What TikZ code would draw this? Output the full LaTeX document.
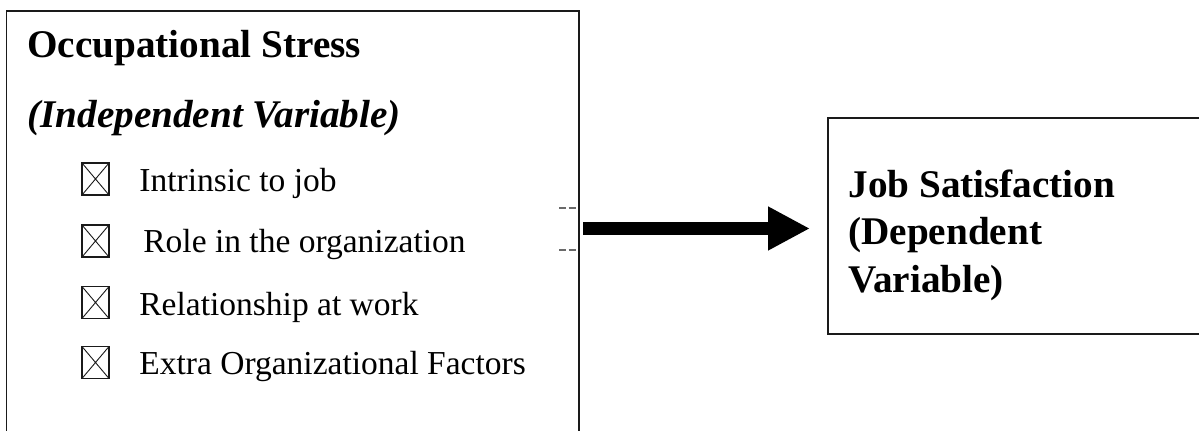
\documentclass[tikz,border=0pt]{standalone}
\usepackage{fontspec}
\setmainfont{Liberation Serif}
\usetikzlibrary{arrows.meta}
\definecolor{dashgrey}{HTML}{6A6A6A}
\definecolor{frame}{HTML}{1A1A1A}
\begin{document}
\begin{tikzpicture}[x=0.5pt,y=-0.5pt,
  framestyle/.style={draw=frame,line width=0.7pt},
  headtext/.style={anchor=base west,inner sep=0pt,font=\fontsize{19.6}{23}\selectfont\bfseries},
  itemtext/.style={anchor=base west,inner sep=0pt,font=\fontsize{16.75}{20}\selectfont},
  checkbox/.style={draw=frame,line width=0.65pt,inner sep=0pt,minimum width=13.5pt,minimum height=16pt,
    path picture={\draw[line width=0.45pt,frame] (path picture bounding box.north west) -- (path picture bounding box.south east)
      (path picture bounding box.south west) -- (path picture bounding box.north east);}},
  dashline/.style={draw=dashgrey,line width=0.6pt,dash pattern=on 3.5pt off 1.3pt}
]
\useasboundingbox (0,0) rectangle (1199,431);
\fill[white] (0,0) rectangle (1199,431);
% left box (open at the bottom)
\draw[framestyle] (6.5,431) -- (6.5,11) -- (579,11) -- (579,431);
% right box (open at the right)
\draw[framestyle] (1199,118) -- (828,118) -- (828,334) -- (1199,334);
% headings
\node[headtext] (occ) at (27,58) {Occupational Stress};
\node[headtext,font=\fontsize{19.6}{23}\selectfont\bfseries\itshape] (indep) at (27,128) {(Independent Variable)};
% items
\node[checkbox] (cb1) at (95.5,179) {};
\node[checkbox] (cb2) at (95.5,241) {};
\node[checkbox] (cb3) at (95.5,302.5) {};
\node[checkbox] (cb4) at (95.5,362.5) {};
\node[itemtext] (it1) at (139,192) {Intrinsic to job};
\node[itemtext] (it2) at (143,253) {Role in the organization};
\node[itemtext] (it3) at (139,316) {Relationship at work};
\node[itemtext] (it4) at (139,375) {Extra Organizational Factors};
% right box text
\node[headtext] (js1) at (848,198) {Job Satisfaction};
\node[headtext] (js2) at (848,245) {(Dependent};
\node[headtext] (js3) at (848,293) {Variable)};
% small dashes
\coordinate (d1a) at (559,208); \coordinate (d1b) at (577,208);
\coordinate (d2a) at (559,250); \coordinate (d2b) at (577,250);
\draw[dashline] (d1a) -- (d1b);
\draw[dashline] (d2a) -- (d2b);
% arrow
\coordinate (arrS) at (583,228.5);
\coordinate (arrE) at (810,228.5);
\draw[line width=6.5pt,black,-{Triangle[length=21pt,width=20.5pt]}] (arrS) -- (arrE);
\end{tikzpicture}
\end{document}
